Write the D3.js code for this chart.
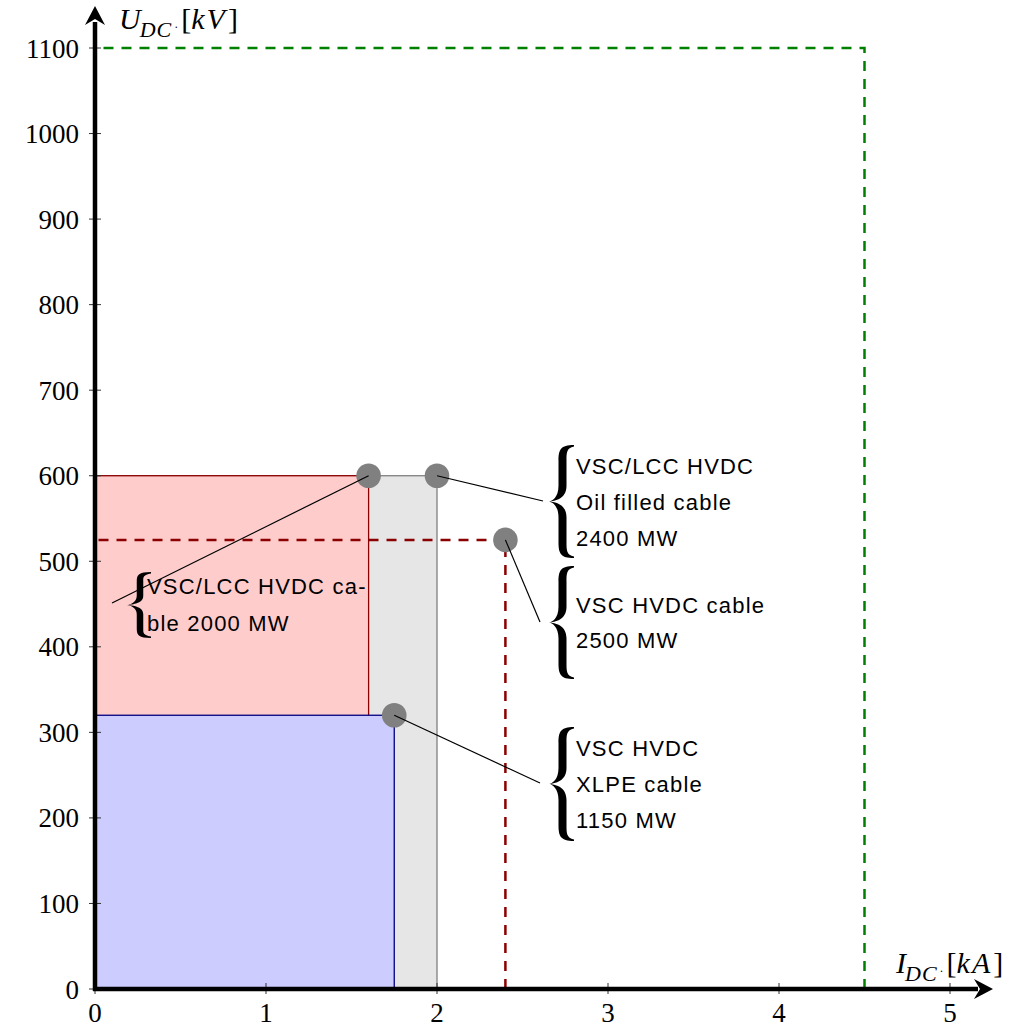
<!DOCTYPE html>
<html><head><meta charset="utf-8">
<script src="https://cdn.jsdelivr.net/npm/d3@7"></script>
<style>body{margin:0;background:#fff}</style>
</head><body>
<script>
// ---- data ----
const xTicks = [0, 1, 2, 3, 4, 5];
const yTicks = [0, 100, 200, 300, 400, 500, 600, 700, 800, 900, 1000, 1100];
const rectNames = ["oil", "lcc", "xlpe"];
const rectCurrents = [2.0, 1.6, 1.75];      // kA
const rectVoltages = [600, 600, 320];       // kV
const pointCurrents = [1.6, 2.0, 2.4, 1.75];
const pointVoltages = [600, 600, 525, 320];
const vscLimit = [2.4, 525];
const maxLimit = [4.5, 1100];
const labelOil = ["VSC/LCC HVDC", "Oil filled cable", "2400 MW"];
const labelVsc = ["VSC HVDC cable", "2500 MW"];
const labelXlpe = ["VSC HVDC", "XLPE cable", "1150 MW"];
const labelLcc = ["VSC/LCC HVDC ca-", "ble 2000 MW"];

const W = 1030, H = 1029;
const svg = d3.select("body").append("svg").attr("width", W).attr("height", H);
const x = d3.scaleLinear().domain([0, 5]).range([95, 950]);
const y = d3.scaleLinear().domain([0, 1100]).range([989, 48]);

const fills = {oil: "#e6e6e6", lcc: "#ffcccc", xlpe: "#ccccff"};
const strokes = {oil: "#808080", lcc: "#8b0000", xlpe: "#000080"};

// rectangles
rectNames.forEach((n, i) => {
  svg.append("rect")
    .attr("x", x(0)).attr("y", y(rectVoltages[i]))
    .attr("width", x(rectCurrents[i]) - x(0))
    .attr("height", y(0) - y(rectVoltages[i]))
    .attr("fill", fills[n]).attr("stroke", strokes[n]).attr("stroke-width", 1.3);
});

// dashed limits
const line = d3.line().x(d => x(d[0])).y(d => y(d[1]));
svg.append("path")
  .attr("d", line([[vscLimit[0], 0], [vscLimit[0], vscLimit[1]], [0, vscLimit[1]]]))
  .attr("fill", "none").attr("stroke", "#8b0000").attr("stroke-width", 2.5)
  .attr("stroke-dasharray", "10,8");
svg.append("path")
  .attr("d", line([[maxLimit[0], 0], [maxLimit[0], maxLimit[1]], [0, maxLimit[1]]]))
  .attr("fill", "none").attr("stroke", "#008000").attr("stroke-width", 2.5)
  .attr("stroke-dasharray", "10,8");

// ticks
const tickG = svg.append("g").attr("stroke", "#333").attr("stroke-width", 1);
yTicks.forEach(v => tickG.append("line").attr("x1", x(0) - 6).attr("x2", x(0) + 6).attr("y1", y(v)).attr("y2", y(v)));
xTicks.forEach(v => tickG.append("line").attr("x1", x(v)).attr("x2", x(v)).attr("y1", y(0) - 6).attr("y2", y(0) + 5));

// tick labels
const serif = "'Liberation Serif', 'Times New Roman', serif";
svg.append("g").selectAll("text").data(yTicks).join("text")
  .attr("x", 79).attr("y", d => y(d) + 9.5)
  .attr("text-anchor", "end").attr("font-family", serif).attr("font-size", 27)
  .text(d => d);
svg.append("g").selectAll("text").data(xTicks).join("text")
  .attr("x", d => x(d)).attr("y", y(0) + 33)
  .attr("text-anchor", "middle").attr("font-family", serif).attr("font-size", 27)
  .text(d => d);

// axes with arrows
svg.append("line").attr("x1", x(0) - 2).attr("x2", 978).attr("y1", y(0)).attr("y2", y(0))
  .attr("stroke", "#000").attr("stroke-width", 4.5);
svg.append("line").attr("x1", x(0)).attr("x2", x(0)).attr("y1", y(0) + 2).attr("y2", 22)
  .attr("stroke", "#000").attr("stroke-width", 4.5);
function arrow(tx, ty, dir) {
  const L = 19, Wd = 10, notch = 6;
  let p;
  if (dir === "r") p = [[tx, ty], [tx - L, ty - Wd], [tx - L + notch, ty], [tx - L, ty + Wd]];
  else p = [[tx, ty], [tx - Wd, ty + L], [tx, ty + L - notch], [tx + Wd, ty + L]];
  svg.append("path").attr("d", "M" + p.map(q => q.join(",")).join("L") + "Z").attr("fill", "#000");
}
arrow(993, y(0), "r");
arrow(x(0), 6, "u");

// axis labels
function axisLabel(px, py, main, sub, unit) {
  const t = svg.append("text").attr("x", px).attr("y", py).attr("font-family", serif).attr("font-size", 30);
  t.append("tspan").attr("font-style", "italic").text(main);
  t.append("tspan").attr("font-style", "italic").attr("font-size", 22).attr("dy", 8).attr("dx", -1).attr("letter-spacing", 1).text(sub);
  t.append("tspan").attr("font-size", 12).attr("dy", -6).attr("dx", 2).text("·");
  t.append("tspan").attr("dy", -2).attr("dx", 3).text("[");
  t.append("tspan").attr("font-style", "italic").attr("letter-spacing", 2).text(unit);
  t.append("tspan").attr("dx", 1).text("]");
}
axisLabel(119, 29, "U", "DC", "kV");
axisLabel(896, 973, "I", "DC", "kA");

// braces
function brace(tipX, rightX, y0, y1, t) {
  const ym = (y0 + y1) / 2, xa = (tipX + rightX) / 2 + 1, h = y1 - y0, q = h * 0.07;
  const ol = xa - t / 2, ir = xa + t / 2;
  const d = [
    `M${rightX},${y0}`,
    `C${ol + 2},${y0} ${ol},${y0 + q * 0.6} ${ol},${y0 + 2 * q}`,
    `L${ol},${ym - 2 * q}`,
    `C${ol},${ym - q * 0.5} ${tipX + 3},${ym - 0.5} ${tipX},${ym}`,
    `C${tipX + 3},${ym + 0.5} ${ol},${ym + q * 0.5} ${ol},${ym + 2 * q}`,
    `L${ol},${y1 - 2 * q}`,
    `C${ol},${y1 - q * 0.6} ${ol + 2},${y1} ${rightX},${y1}`,
    `L${rightX},${y1 - 1.5}`,
    `C${ir},${y1 - 3} ${ir},${y1 - q} ${ir},${y1 - 2 * q}`,
    `L${ir},${ym + 2 * q}`,
    `C${ir},${ym + q * 0.3} ${tipX + 6},${ym + 0.6} ${tipX},${ym}`,
    `C${tipX + 6},${ym - 0.6} ${ir},${ym - q * 0.3} ${ir},${ym - 2 * q}`,
    `L${ir},${y0 + 2 * q}`,
    `C${ir},${y0 + q} ${ir},${y0 + 3} ${rightX},${y0 + 1.5}`,
    "Z"].join(" ");
  svg.append("path").attr("d", d).attr("fill", "#000");
}
const sans = "'Liberation Sans', Arial, Helvetica, sans-serif";
function note(lines, tx, baselines) {
  svg.append("g").selectAll("text").data(lines).join("text")
    .attr("x", tx).attr("y", (d, i) => baselines[i])
    .attr("font-family", sans).attr("font-size", 22).attr("letter-spacing", 1.2)
    .text(d => d);
}
brace(549, 574, 445, 558, 8);
note(labelOil, 576, [474, 510, 546]);
brace(549, 574, 566, 679, 8);
note(labelVsc, 576, [613, 648]);
brace(549, 574, 727, 841, 8);
note(labelXlpe, 576, [756, 792, 828]);
brace(127, 151, 572, 638, 6.5);
note(labelLcc, 147, [594, 631]);

// points
const pts = pointCurrents.map((c, i) => [c, pointVoltages[i]]);
svg.append("g").selectAll("circle").data(pts).join("circle")
  .attr("cx", d => x(d[0])).attr("cy", d => y(d[1])).attr("r", 12.3).attr("fill", "#808080");

// connector lines (point -> label)
const ends = [[112, 603], [543, 501], [540, 622], [540, 783]];
const cg = svg.append("g").attr("stroke", "#000").attr("stroke-width", 1.2);
pts.forEach((p, i) => cg.append("line")
  .attr("x1", x(p[0])).attr("y1", y(p[1])).attr("x2", ends[i][0]).attr("y2", ends[i][1]));
</script>
</body></html>
